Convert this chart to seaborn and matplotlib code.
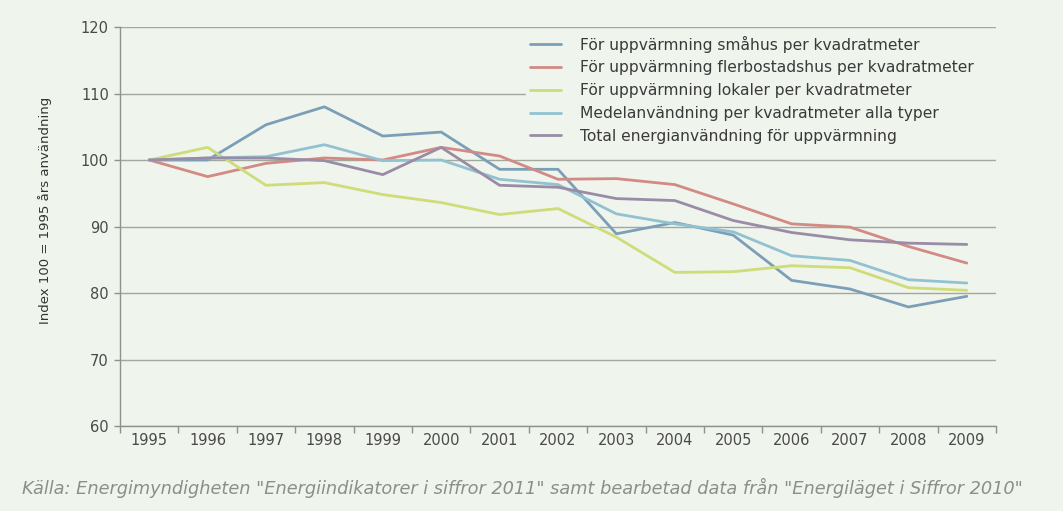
import matplotlib
matplotlib.use("Agg")
import matplotlib.pyplot as plt
import seaborn as sns
import pandas as pd
from matplotlib.ticker import FixedLocator

years = [str(y) for y in range(1995, 2010)]
smahus = [100, 100.0, 105.3, 108.0, 103.6, 104.2, 98.6, 98.6, 88.9, 90.6, 88.7, 81.9, 80.6, 77.9, 79.5]
flerbostad = [100, 97.5, 99.5, 100.3, 100.0, 101.9, 100.6, 97.1, 97.2, 96.3, 93.4, 90.4, 89.9, 87.0, 84.5]
lokaler = [100, 101.9, 96.2, 96.6, 94.8, 93.6, 91.8, 92.7, 88.4, 83.1, 83.2, 84.1, 83.8, 80.8, 80.4]
medel = [100, 100.3, 100.5, 102.3, 99.9, 100.0, 97.1, 96.3, 91.9, 90.4, 89.2, 85.6, 84.9, 82.0, 81.5]
total = [100, 100.3, 100.3, 99.9, 97.8, 101.9, 96.2, 95.9, 94.2, 93.9, 90.9, 89.1, 88.0, 87.5, 87.3]

series_names = [
    "För uppvärmning småhus per kvadratmeter",
    "För uppvärmning flerbostadshus per kvadratmeter",
    "För uppvärmning lokaler per kvadratmeter",
    "Medelanvändning per kvadratmeter alla typer",
    "Total energianvändning för uppvärmning",
]
series_values = [smahus, flerbostad, lokaler, medel, total]
colors = ["#7c9fb8", "#d28a84", "#cfdc7a", "#92c2d2", "#9a8ca6"]

rows = []
for name, vals in zip(series_names, series_values):
    for yr, v in zip(years, vals):
        rows.append({"År": yr, "Index": v, "Serie": name})
df = pd.DataFrame(rows)

bg = "#eff4ec"
sns.set_theme(style="white")
plt.rcParams["font.family"] = ["DejaVu Sans"]

fig = plt.figure(figsize=(10.63, 5.11), dpi=100, facecolor=bg)
ax = fig.add_axes([120 / 1063, 1 - 426 / 511, 876 / 1063, 399 / 511])
ax.set_facecolor(bg)

sns.lineplot(data=df, x="År", y="Index", hue="Serie", hue_order=series_names,
             palette=colors, linewidth=2.0, ax=ax, sort=False)

ax.set_xlim(-0.5, len(years) - 0.5)
ax.set_ylim(60, 120)
ax.set_yticks(range(60, 121, 10))
ax.yaxis.grid(True, color="#a2a89f", linewidth=1.0)
ax.set_axisbelow(True)

for side in ["top", "right"]:
    ax.spines[side].set_visible(False)
for side in ["left", "bottom"]:
    ax.spines[side].set_color("#8e948b")
    ax.spines[side].set_linewidth(1.0)

ax.xaxis.set_minor_locator(FixedLocator([i - 0.5 for i in range(len(years) + 1)]))
ax.tick_params(axis="x", which="major", length=0, pad=5, labelsize=10.5, labelcolor="#4a4a4a")
ax.tick_params(axis="x", which="minor", length=5, width=1.0, color="#8e948b", direction="out", bottom=True)
ax.tick_params(axis="y", which="major", length=4, width=1.0, color="#8e948b", pad=4,
               labelsize=10.5, labelcolor="#4a4a4a", left=True)

ax.set_xlabel("")
ax.set_ylabel("")
fig.text(45 / 1063, 1 - 210 / 511, "Index 100 = 1995 års användning", rotation=90,
         ha="center", va="center", fontsize=9.5, color="#333333",
         family=["Liberation Sans Narrow", "DejaVu Sans"])

leg = ax.legend(loc="upper left", bbox_to_anchor=(0.4636, 0.0, 0.546, 0.988), mode="expand",
                frameon=True, facecolor=bg, edgecolor=bg, framealpha=1.0, fontsize=11.2,
                handlelength=2.0, handletextpad=1.2, labelspacing=0.5,
                borderpad=0.25, borderaxespad=0.0, title=None)
for t in leg.get_texts():
    t.set_color("#3a3a3a")

fig.text(22 / 1063, 1 - 488 / 511,
         "Källa: Energimyndigheten \"Energiindikatorer i siffror 2011\" samt bearbetad data från \"Energiläget i Siffror 2010\"",
         ha="left", va="center", fontsize=12.8, style="italic", color="#8a8f88")

fig.savefig("out.png", dpi=100, facecolor=bg)
